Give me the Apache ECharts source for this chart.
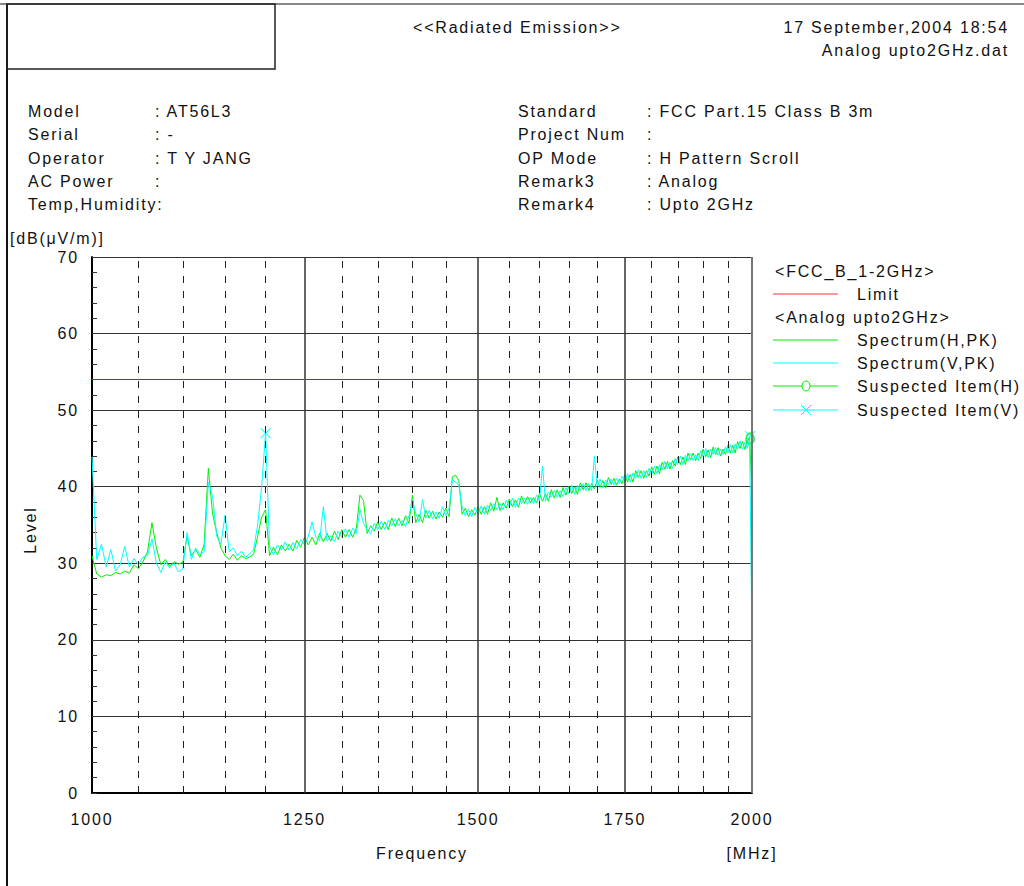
<!DOCTYPE html>
<html><head><meta charset="utf-8">
<script src="https://cdn.jsdelivr.net/npm/echarts@6/dist/echarts.min.js"></script>
<style>html,body{margin:0;padding:0;background:#fff}#c{width:1024px;height:886px}#c svg text{letter-spacing:1.8px}</style>
</head><body><div id="c"></div>
<script>
// Frequency samples (MHz)
const freqMHz = [
 1000,1005,1010,1015,1020,1025,1030,1035,1040,1045,
 1050,1055,1060,1065,1070,1075,1080,1085,1090,1095,
 1100,1105,1110,1115,1120,1125,1130,1135,1140,1145,
 1150,1155,1160,1165,1170,1175,1180,1185,1190,1195,
 1200,1205,1210,1215,1220,1225,1230,1235,1240,1245,
 1250,1255,1260,1265,1270,1275,1280,1285,1290,1295,
 1300,1305,1310,1315,1320,1325,1330,1335,1340,1345,
 1350,1355,1360,1365,1370,1375,1380,1385,1390,1395,
 1400,1405,1410,1415,1420,1425,1430,1435,1440,1445,
 1450,1455,1460,1465,1470,1475,1480,1485,1490,1495,
 1500,1505,1510,1515,1520,1525,1530,1535,1540,1545,
 1550,1555,1560,1565,1570,1575,1580,1585,1590,1595,
 1600,1605,1610,1615,1620,1625,1630,1635,1640,1645,
 1650,1655,1660,1665,1670,1675,1680,1685,1690,1695,
 1700,1705,1710,1715,1720,1725,1730,1735,1740,1745,
 1750,1755,1760,1765,1770,1775,1780,1785,1790,1795,
 1800,1805,1810,1815,1820,1825,1830,1835,1840,1845,
 1850,1855,1860,1865,1870,1875,1880,1885,1890,1895,
 1900,1905,1910,1915,1920,1925,1930,1935,1940,1945,
 1950,1955,1960,1965,1970,1975,1980,1985,1990,1995,
 2000
];
// Spectrum (H,PK) dB(uV/m)
const spectrumH = [
 31.0,28.6,28.2,28.5,28.4,28.8,28.6,29.0,28.7,29.8,
 29.3,30.2,31.5,35.3,32.0,29.8,30.5,29.6,30.2,29.9,
 30.1,33.5,31.0,31.8,30.8,32.5,42.4,36.5,34.0,32.0,
 31.0,30.5,31.2,30.4,31.0,30.6,30.8,31.2,33.5,36.0,
 37.0,31.0,32.1,31.1,32.4,31.6,32.5,31.6,33.0,32.1,
 33.4,32.4,33.4,32.4,33.9,32.8,33.9,32.9,34.2,33.1,
 34.4,33.4,34.4,33.4,34.6,38.9,38.2,33.9,34.9,34.2,
 35.4,34.4,35.4,34.4,35.9,34.8,35.9,34.9,36.2,35.2,
 38.9,35.3,36.4,35.3,36.9,35.9,36.8,35.8,36.7,36.0,
 37.2,36.1,41.3,41.5,40.8,36.4,37.2,36.1,37.0,36.3,
 37.4,36.4,37.4,36.4,37.9,36.8,38.6,36.9,37.9,37.2,
 38.4,37.4,38.3,37.3,38.8,37.8,38.7,37.9,38.6,37.9,
 39.1,38.1,39.1,38.1,39.6,38.5,39.6,38.6,39.9,38.9,
 40.1,39.1,40.0,39.0,40.5,39.6,40.5,39.5,40.4,39.7,
 40.9,39.9,40.8,39.8,41.2,40.3,41.1,40.2,41.0,40.4,
 41.6,40.6,41.6,40.6,42.1,41.2,42.1,41.1,42.1,41.4,
 42.6,41.6,42.7,41.7,43.2,42.3,43.3,42.3,43.4,42.7,
 43.9,42.9,43.9,42.9,44.4,43.5,44.4,43.4,44.4,43.7,
 44.9,43.9,44.8,43.8,45.2,44.2,45.1,44.0,44.9,44.2,
 45.4,44.4,45.4,44.4,45.9,45.0,45.9,44.9,45.9,46.4,
 39.0
];
// Spectrum (V,PK) dB(uV/m)
const spectrumV = [
 43.9,30.5,32.5,29.5,31.8,29.0,29.8,32.2,29.5,30.6,
 29.8,30.8,31.0,33.2,30.0,28.8,30.2,29.4,30.0,28.9,
 29.2,34.0,30.5,32.0,31.2,31.5,40.6,38.7,33.5,32.5,
 36.3,31.5,32.0,31.0,31.6,30.8,31.2,31.8,35.0,40.0,
 47.0,32.2,31.1,32.4,31.7,32.8,31.7,32.7,31.9,33.1,
 32.4,33.5,35.4,33.4,32.9,37.4,32.9,33.6,32.8,34.2,
 33.4,34.5,33.4,34.6,33.9,37.0,35.2,34.4,33.8,35.2,
 34.4,35.5,34.4,35.6,34.9,35.8,34.9,35.6,34.8,36.2,
 38.3,36.5,35.4,38.3,35.9,36.9,35.8,36.7,35.9,37.4,
 36.2,37.2,40.9,40.6,40.2,37.4,36.2,37.1,36.1,37.3,
 36.4,37.5,36.4,37.6,36.9,37.8,37.0,37.8,37.0,38.2,
 37.4,38.5,37.3,38.5,37.8,38.5,37.7,38.6,37.8,38.9,
 38.1,42.7,38.1,39.3,38.6,39.5,38.6,39.5,38.7,39.9,
 39.1,40.2,39.0,40.2,39.5,40.4,39.5,40.4,39.5,44.0,
 39.9,41.0,39.8,40.9,40.3,41.0,40.2,41.1,40.4,41.4,
 40.6,41.7,40.6,41.8,41.1,42.2,41.1,42.1,41.2,42.4,
 41.6,42.7,41.7,42.9,42.2,43.3,42.3,43.2,42.4,43.7,
 42.9,44.0,42.9,44.1,43.4,44.3,43.4,44.2,43.4,44.7,
 43.9,45.0,43.8,44.9,44.2,45.1,44.1,44.9,44.2,45.2,
 44.4,45.5,44.4,45.6,44.9,46.0,44.9,45.8,45.0,46.2,
 19.0
];
// Limit line
const limitFreq = [1000, 2000];
const limitLevel = [54, 54];
// Suspected items
const suspectHFreq = [1996];
const suspectHLevel = [46.3];
const suspectVFreq = [1200, 1996];
const suspectVLevel = [47.0, 46.6];
// Axis ticks
const xTickLabels = [1000, 1250, 1500, 1750, 2000];
const xMajorGrid = [1250, 1500, 1750];
const xMinorGrid = [1050,1100,1150,1200,1300,1350,1400,1450,1550,1600,1650,1700,1800,1850,1900,1950];

const FONT = '"Liberation Sans", Arial, sans-serif';
const zip = (a, b) => a.map((v, i) => [v, b[i]]);

const chart = echarts.init(document.getElementById('c'), null, {renderer: 'svg'});

function txt(x, y, s, align, size) {
  return {type: 'text', x: x, y: y, silent: true,
    style: {text: s, fill: '#111', font: (size || 16) + 'px ' + FONT, align: align || 'left', verticalAlign: 'middle'}};
}
const gLine = (x1, y1, x2, y2, color, w) => ({type: 'line', silent: true,
  shape: {x1, y1, x2, y2}, style: {stroke: color, lineWidth: w || 1}});

const graphics = [
  gLine(0, 4, 1024, 4, '#888', 2),
  gLine(7, 4, 7, 886, '#111', 2),
  {type: 'rect', silent: true, shape: {x: 7, y: 4, width: 268, height: 65}, style: {fill: 'none', stroke: '#222', lineWidth: 1.5}},
  txt(413, 27, '<<Radiated Emission>>'),
  txt(1009, 27, '17 September,2004 18:54', 'right'),
  txt(1009, 50, 'Analog upto2GHz.dat', 'right'),
  txt(28, 111, 'Model'), txt(155, 111, ': AT56L3'),
  txt(28, 134, 'Serial'), txt(155, 134, ': -'),
  txt(28, 158, 'Operator'), txt(155, 158, ': T Y JANG'),
  txt(28, 181, 'AC Power'), txt(155, 181, ':'),
  txt(28, 204, 'Temp,Humidity:'),
  txt(518, 111, 'Standard'), txt(647, 111, ': FCC Part.15 Class B 3m'),
  txt(518, 134, 'Project Num'), txt(647, 134, ':'),
  txt(518, 158, 'OP Mode'), txt(647, 158, ': H Pattern Scroll'),
  txt(518, 181, 'Remark3'), txt(647, 181, ': Analog'),
  txt(518, 204, 'Remark4'), txt(647, 204, ': Upto 2GHz'),
  txt(10, 238, '[dB(\u03bcV/m)]'),
  // legend
  txt(775, 271, '<FCC_B_1-2GHz>'),
  gLine(773, 294, 838, 294, '#ff3030', 1.2), txt(857, 294, 'Limit'),
  txt(775, 317, '<Analog upto2GHz>'),
  gLine(773, 340, 838, 340, '#00ee00', 1), txt(857, 340, 'Spectrum(H,PK)'),
  gLine(773, 363, 838, 363, '#00ffff', 1), txt(857, 363, 'Spectrum(V,PK)'),
  gLine(773, 386, 838, 386, '#00ee00', 1),
  {type: 'ellipse', silent: true, shape: {cx: 806, cy: 386, rx: 4, ry: 5}, style: {fill: '#fff', stroke: '#00ee00', lineWidth: 1}},
  txt(857, 386, 'Suspected Item(H)'),
  gLine(773, 410, 838, 410, '#00ffff', 1),
  gLine(801, 405, 811, 415, '#00ffff', 1), gLine(811, 405, 801, 415, '#00ffff', 1),
  txt(857, 410, 'Suspected Item(V)'),
  // axis titles
  txt(422, 853, 'Frequency', 'center'),
  txt(752, 853, '[MHz]', 'center'),
  {type: 'text', x: 30, y: 530, rotation: Math.PI / 2, silent: true,
    style: {text: 'Level', fill: '#111', font: '16px ' + FONT, align: 'center', verticalAlign: 'middle'}}
];

const gridMarks = [];
xMajorGrid.forEach(v => gridMarks.push({xAxis: v, lineStyle: {color: '#333', width: 1.5, type: 'solid'}}));
xMinorGrid.forEach(v => gridMarks.push({xAxis: v, lineStyle: {color: '#222', width: 1, type: [7, 8]}}));
gridMarks.push({xAxis: 2000, lineStyle: {color: '#777', width: 2, type: 'solid'}});

const xSym = 'path://M0,0L10,10M10,0L0,10';

chart.setOption({
  animation: false,
  backgroundColor: '#fff',
  textStyle: {fontFamily: FONT},
  grid: {left: 92, right: 272, top: 257, bottom: 93, containLabel: false},
  xAxis: {
    type: 'log', logBase: 10, min: 1000, max: 2000,
    axisLine: {show: true, onZero: false, lineStyle: {color: '#000', width: 2}},
    axisTick: {show: false},
    splitLine: {show: false},
    minorTick: {show: false}, minorSplitLine: {show: false},
    axisLabel: {customValues: xTickLabels, color: '#111', fontSize: 16, margin: 18, fontFamily: FONT,
      formatter: v => String(Math.round(v)), showMinLabel: true, showMaxLabel: true}
  },
  yAxis: {
    type: 'value', min: 0, max: 70, interval: 10,
    axisLine: {show: true, lineStyle: {color: '#000', width: 2}},
    axisTick: {show: true, inside: true, length: 5, lineStyle: {color: '#333'}},
    minorTick: {show: true, splitNumber: 5, length: 5, lineStyle: {color: '#333'}},
    splitLine: {show: true, lineStyle: {color: '#333', width: 1}},
    axisLabel: {color: '#111', fontSize: 16, margin: 13, fontFamily: FONT}
  },
  graphic: graphics,
  series: [
    {name: 'Grid', type: 'line', data: [], silent: true,
      markLine: {silent: true, symbol: ['none', 'none'], label: {show: false}, animation: false, data: gridMarks}},
    {name: 'Limit', type: 'line', data: zip(limitFreq, limitLevel), symbol: 'none', silent: true, z: 5,
      lineStyle: {color: '#ff0000', width: 1.2}},
    {name: 'Spectrum(H,PK)', type: 'line', data: zip(freqMHz, spectrumH), symbol: 'none', silent: true,
      lineStyle: {color: '#00ee00', width: 1}},
    {name: 'Spectrum(V,PK)', type: 'line', data: zip(freqMHz, spectrumV), symbol: 'none', silent: true,
      lineStyle: {color: '#00ffff', width: 1}},
    {name: 'Suspected Item(H)', type: 'scatter', data: zip(suspectHFreq, suspectHLevel), symbol: 'emptyCircle',
      symbolSize: [8, 10], silent: true, itemStyle: {color: '#00ee00', borderColor: '#00ee00', borderWidth: 1}},
    {name: 'Suspected Item(V)', type: 'scatter', data: zip(suspectVFreq, suspectVLevel), symbol: xSym,
      symbolSize: 10, silent: true, itemStyle: {color: 'none', borderColor: '#00ffff', borderWidth: 1.2}}
  ]
});
</script></body></html>
